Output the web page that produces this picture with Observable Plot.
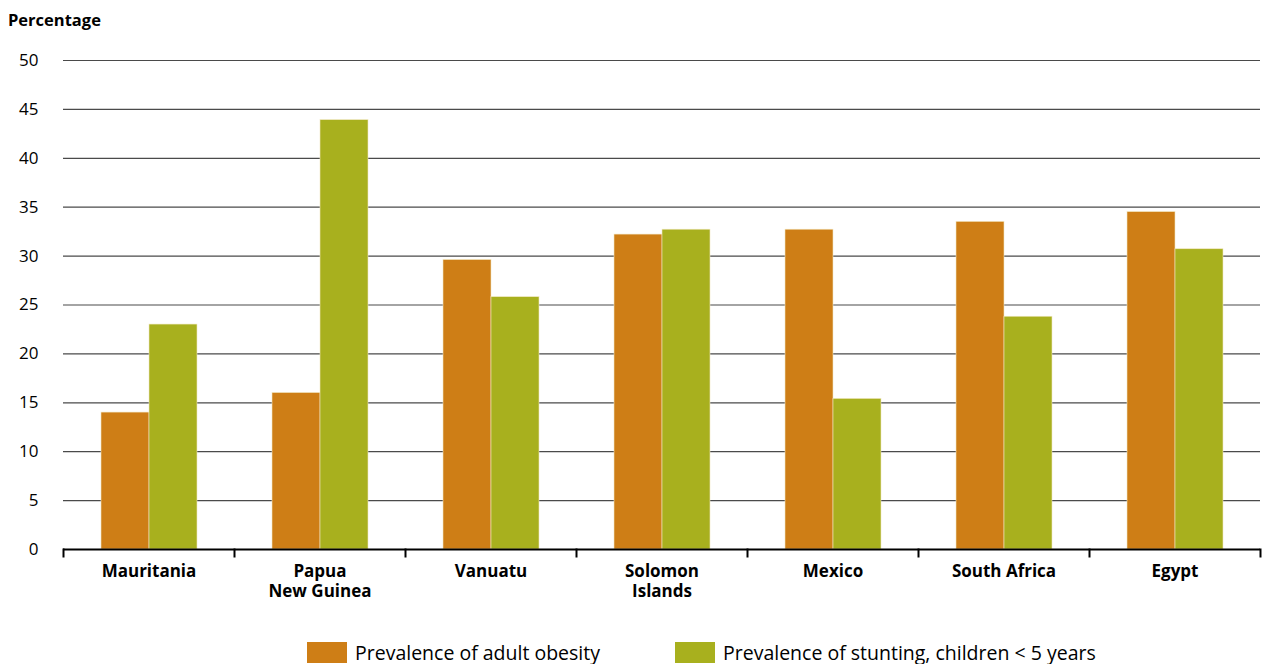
<!DOCTYPE html>
<html><head><meta charset="utf-8">
<script src="https://cdn.jsdelivr.net/npm/d3@7"></script>
<script src="https://cdn.jsdelivr.net/npm/@observablehq/plot@0.6"></script>
<style>
body{margin:0;background:#fff;font-family:"Open Sans","Noto Sans",sans-serif;color:#000}
#wrap{position:relative;width:1263px;height:664px;overflow:hidden}
#ylabel{position:absolute;left:8px;top:12px;font-weight:bold;font-size:16.5px;line-height:1}
#chart{position:absolute;left:0;top:0}
.leg{position:absolute;top:642px;height:21px;display:flex;align-items:center;font-size:19.5px;line-height:1;white-space:nowrap}
.sw{display:inline-block;width:40px;height:21px;margin-right:8px}
</style></head><body>
<div id="wrap">
<div id="chart"></div>
<div id="ylabel">Percentage</div>
<div id="legend"></div>
</div>
<script>
const countries = ["Mauritania","Papua\nNew Guinea","Vanuatu","Solomon\nIslands","Mexico","South Africa","Egypt"];
const seriesNames = ["Prevalence of adult obesity","Prevalence of stunting, children < 5 years"];
const obesity = [14, 16, 29.6, 32.2, 32.7, 33.5, 34.5];
const stunting = [23, 43.9, 25.8, 32.7, 15.4, 23.8, 30.7];
const seriesColors = ["#CE7E16","#A8B01E"];
const yTicks = [0,5,10,15,20,25,30,35,40,45,50];

const data = countries.flatMap((c,i)=>[
  {country:c, series:seriesNames[0], value:obesity[i]},
  {country:c, series:seriesNames[1], value:stunting[i]}
]);

const chart = Plot.plot({
  width:1263, height:620,
  marginLeft:60, marginRight:1, marginTop:60, marginBottom:71,
  style:{fontFamily:'"Open Sans","Noto Sans",sans-serif', fontSize:"17px", color:"#000", background:"#fff", overflow:"visible"},
  fx:{domain:countries, padding:0, label:null},
  x:{domain:seriesNames, paddingInner:0, paddingOuter:0.78, axis:null},
  y:{domain:[0,50], label:null},
  color:{domain:seriesNames, range:seriesColors},
  marks:[
    Plot.ruleY(yTicks.filter(d=>d>0), {stroke:"#4a4a4a", strokeWidth:1.2}),
    Plot.axisY({ticks:yTicks, tickSize:0, tickPadding:25, label:null, fontSize:17}),
    Plot.axisFx({anchor:"bottom", tickSize:0, tickPadding:13, label:null, fontSize:17, fontWeight:"bold", lineHeight:1.18}),
    Plot.barY(data,{fx:"country", x:"series", y:"value", fill:"series", stroke:"#f2e8c2", strokeWidth:0.6}),
    Plot.ruleY([0],{stroke:"#000", strokeWidth:2}),
    Plot.frame({anchor:"left", stroke:"#000", strokeWidth:2, insetTop:489, insetBottom:-7}),
    Plot.frame({anchor:"right", fx:() => countries[countries.length-1], stroke:"#000", strokeWidth:2, insetTop:489, insetBottom:-7})
  ]
});
document.getElementById("chart").appendChild(chart);

const legend = document.getElementById("legend");
const legendX = [307, 675];
seriesNames.forEach((s,i)=>{
  const d = document.createElement("div");
  d.className = "leg";
  d.style.left = legendX[i] + "px";
  d.innerHTML = `<span class="sw" style="background:${seriesColors[i]}"></span>`;
  const t = document.createElement("span");
  t.textContent = s;
  d.appendChild(t);
  legend.appendChild(d);
});
</script>
</body></html>
